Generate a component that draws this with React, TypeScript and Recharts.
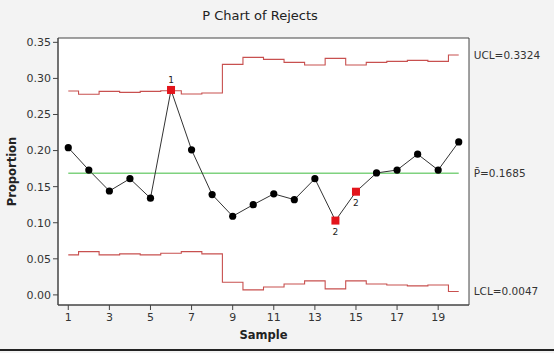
import React from "react";
import { LineChart, Line, XAxis, YAxis, ReferenceLine, ReferenceArea, ReferenceDot } from "recharts";

const samples = [1, 2, 3, 4, 5, 6, 7, 8, 9, 10, 11, 12, 13, 14, 15, 16, 17, 18, 19, 20];
const proportions = [0.204, 0.173, 0.144, 0.161, 0.134, 0.284, 0.201, 0.139, 0.109, 0.125, 0.14, 0.132, 0.161, 0.103, 0.143, 0.169, 0.173, 0.195, 0.173, 0.212];
const uclValues = [0.2826, 0.278, 0.2821, 0.2807, 0.2821, 0.283, 0.2784, 0.2798, 0.3195, 0.3292, 0.3264, 0.3222, 0.3185, 0.3278, 0.3185, 0.3222, 0.3236, 0.325, 0.3236, 0.3324];
const lclValues = [0.0554, 0.06, 0.0554, 0.0568, 0.0554, 0.0577, 0.06, 0.0568, 0.0175, 0.0069, 0.011, 0.0152, 0.0194, 0.0083, 0.0194, 0.0152, 0.0138, 0.0125, 0.0138, 0.0047];
const testFlags = ["", "", "", "", "", "1", "", "", "", "", "", "", "", "2", "2", "", "", "", "", ""];
const CENTER = 0.1685;
const UCL_LABEL = "UCL=0.3324";
const CENTER_LABEL = "P\u0304=0.1685";
const LCL_LABEL = "LCL=0.0047";
const xTicks = [1, 3, 5, 7, 9, 11, 13, 15, 17, 19];
const yTicks = [0, 0.05, 0.1, 0.15, 0.2, 0.25, 0.3, 0.35];

const data = samples.map((s, i) => ({
  sample: s,
  p: proportions[i],
  ucl: uclValues[i],
  lcl: lclValues[i],
}));

const FONT = "DejaVu Sans, Verdana, sans-serif";
const Y_MIN = -0.014;
const Y_MAX = 0.356;

const renderDot = (props: any) => {
  const { cx, cy, index } = props;
  const flag = testFlags[index];
  if (flag) {
    return (
      <g key={`d${index}`}>
        <rect x={cx - 4} y={cy - 4} width={8} height={8} fill="#e3141b" />
        <text
          x={cx}
          y={flag === "1" ? cy - 7 : cy + 14}
          textAnchor="middle"
          fontSize={9}
          fontFamily={FONT}
          fill="#222"
        >
          {flag}
        </text>
      </g>
    );
  }
  return <circle key={`d${index}`} cx={cx} cy={cy} r={3.6} fill="#000" />;
};

const sideLabel = (value: string) => ({
  value,
  position: "right" as const,
  offset: 15,
  fontSize: 10.5,
  fontFamily: FONT,
  fill: "#333",
});

export default function App() {
  const last = samples.length - 1;
  return (
    <div
      style={{
        position: "fixed",
        left: 0,
        top: 0,
        width: 554,
        height: 353,
        background: "#f3f3f3",
        overflow: "hidden",
      }}
    >
      <div
        style={{
          position: "absolute",
          left: 0,
          width: 520,
          top: 8,
          textAlign: "center",
          fontFamily: FONT,
          fontSize: 13,
          color: "#222",
        }}
      >
        P Chart of Rejects
      </div>
      <div style={{ position: "absolute", left: 0, top: 349, width: 554, height: 2, background: "#222" }} />
      <div style={{ position: "absolute", left: 0, top: 0 }}>
        <LineChart width={554} height={353} data={data} margin={{ top: 38, right: 85, left: 0, bottom: 0 }}>
          <ReferenceArea y1={Y_MIN} y2={Y_MAX} fill="#ffffff" fillOpacity={1} stroke="#444" strokeWidth={1} />
          <XAxis
            dataKey="sample"
            type="number"
            domain={[0.5, 20.5]}
            ticks={xTicks}
            height={48}
            tickSize={5}
            tickMargin={3}
            axisLine={{ stroke: "#444" }}
            tickLine={{ stroke: "#444" }}
            tick={{ fontFamily: FONT, fontSize: 11, fill: "#333" }}
            label={{ value: "Sample", position: "center", dy: 6, fontFamily: FONT, fontSize: 11.5, fontWeight: "bold", fill: "#222" }}
            allowDataOverflow
          />
          <YAxis
            type="number"
            domain={[Y_MIN, Y_MAX]}
            ticks={yTicks}
            width={58}
            tickSize={5}
            tickMargin={2}
            axisLine={{ stroke: "#444" }}
            tickLine={{ stroke: "#444" }}
            tickFormatter={(v: number) => v.toFixed(2)}
            tick={{ fontFamily: FONT, fontSize: 11, fill: "#333" }}
            label={{ value: "Proportion", angle: -90, position: "center", dx: -17, fontFamily: FONT, fontSize: 11.5, fontWeight: "bold", fill: "#222" }}
            allowDataOverflow
          />
          <ReferenceLine
            segment={[
              { x: samples[0], y: CENTER },
              { x: samples[last], y: CENTER },
            ]}
            stroke="#7fd27f"
            strokeWidth={1.6}
          />
          <Line dataKey="ucl" type="step" stroke="#c8504f" strokeWidth={1.1} dot={false} isAnimationActive={false} />
          <Line dataKey="lcl" type="step" stroke="#c8504f" strokeWidth={1.1} dot={false} isAnimationActive={false} />
          <Line dataKey="p" type="linear" stroke="#333" strokeWidth={1} dot={renderDot} isAnimationActive={false} />
          <ReferenceDot x={samples[last]} y={uclValues[last]} r={0} fill="none" stroke="none" label={sideLabel(UCL_LABEL)} />
          <ReferenceDot x={samples[last]} y={CENTER} r={0} fill="none" stroke="none" label={sideLabel(CENTER_LABEL)} />
          <ReferenceDot x={samples[last]} y={lclValues[last]} r={0} fill="none" stroke="none" label={sideLabel(LCL_LABEL)} />
        </LineChart>
      </div>
    </div>
  );
}
